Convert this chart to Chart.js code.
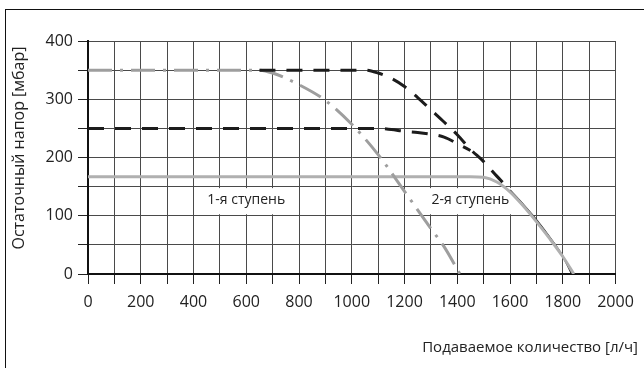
<!DOCTYPE html>
<html>
<head>
<meta charset="utf-8">
<script src="https://cdn.jsdelivr.net/npm/chart.js@4"></script>
<style>
    html, body { margin: 0; padding: 0; background: #fff; }
    #wrap { position: relative; width: 644px; height: 368px; overflow: hidden; }
    #chart { position: absolute; left: 0; top: 0; }
    #frame { position: absolute; left: 5px; top: 9px; width: 700px; height: 400px; border-left: 1px solid #111; border-top: 1px solid #111; pointer-events: none; }
</style>
</head>
<body>
<div id="wrap">
    <canvas id="chart" width="644" height="368"></canvas>
    <div id="frame"></div>
</div>
<script>
// flow [l/h] and residual head [mbar]
const solidFlow = [0, 1450, 1500, 1550, 1600, 1650, 1700, 1750, 1800, 1842];
const solidHead = [167, 167, 166, 158, 141, 117, 90, 61, 30, 0];

const tailFlow = [1600, 1653, 1704, 1754, 1802, 1834];
const tailHead = [144, 118, 91, 61, 29, 0];

// the lower dashed curve joins the upper one at about 1450 l/h
const lowDashFlow = [0, 1100, 1150, 1200, 1250, 1300, 1350, 1400, 1450];
const lowDashHead = [250, 250, 248, 245, 243, 240, 235, 224, 212];

const highDashFlow = [650, 1050, 1100, 1150, 1200, 1250, 1300, 1350, 1400, 1450, 1500, 1550, 1600];
const highDashHead = [350, 350, 345, 336, 322, 303, 282, 261, 239, 214, 193, 168, 144];

const dashDotFlow = [0, 650, 700, 800, 900, 1000, 1100, 1200, 1300, 1350, 1410];
const dashDotHead = [350, 350, 345, 325, 298, 257, 205, 142, 78, 47, 0];

const stageNames = ['1-я ступень', '2-я ступень'];
const stageFlow = [600, 1450];
const stageHead = 125;

const xTitle = 'Подаваемое количество [л/ч]';
const yTitle = 'Остаточный напор [мбар]';

const FONT = '"Open Sans", "DejaVu Sans", sans-serif';

function points(xs, ys) {
    return xs.map((x, i) => ({ x: x, y: ys[i] }));
}

const stageLabels = {
    id: 'stageLabels',
    beforeDatasetsDraw(chart) {
        const { ctx, scales: { x, y } } = chart;
        const top = y.getPixelForValue(150) + 1.5;
        const bottom = y.getPixelForValue(100) - 1.5;
        ctx.save();
        ctx.font = '14px ' + FONT;
        ctx.textAlign = 'center';
        ctx.textBaseline = 'middle';
        stageNames.forEach((name, i) => {
            const cx = x.getPixelForValue(stageFlow[i]);
            const w = ctx.measureText(name).width + 20;
            ctx.fillStyle = '#fff';
            ctx.fillRect(cx - w / 2, top, w, bottom - top);
            ctx.fillStyle = '#222';
            ctx.fillText(name, cx, y.getPixelForValue(stageHead) - 1);
        });
        ctx.restore();
    }
};

const axisTitles = {
    id: 'axisTitles',
    afterDraw(chart) {
        const { ctx } = chart;
        ctx.save();
        ctx.fillStyle = '#222';
        ctx.font = '15px ' + FONT;
        ctx.textAlign = 'right';
        ctx.textBaseline = 'middle';
        ctx.fillText(xTitle, 638, 348);

        ctx.font = '16px ' + FONT;
        ctx.translate(19, 148);
        ctx.rotate(-Math.PI / 2);
        ctx.textAlign = 'center';
        ctx.fillText(yTitle, 0, 0);
        ctx.restore();
    }
};

const dashed = { borderColor: '#1c1c1c', borderWidth: 3, borderDash: [16, 11] };

new Chart(document.getElementById('chart'), {
    type: 'line',
    data: {
        datasets: [
            Object.assign({ data: points(highDashFlow, highDashHead), order: 0 }, dashed),
            Object.assign({ data: points(lowDashFlow, lowDashHead), order: 1 }, dashed),
            {
                data: points(dashDotFlow, dashDotHead),
                borderColor: '#9e9e9e',
                borderWidth: 3,
                borderDash: [24, 8, 3, 8],
                order: 2
            },
            {
                data: points(solidFlow, solidHead),
                borderColor: '#b0b0b0',
                borderWidth: 3,
                order: 3
            },
            {
                data: points(tailFlow, tailHead),
                borderColor: '#1c1c1c',
                borderWidth: 1.6,
                order: 4
            }
        ]
    },
    options: {
        responsive: false,
        animation: false,
        events: [],
        layout: { padding: { top: 41, left: 0, right: 28.5, bottom: 0 } },
        elements: {
            point: { radius: 0 },
            line: { cubicInterpolationMode: 'monotone', borderCapStyle: 'butt' }
        },
        plugins: {
            legend: { display: false },
            tooltip: { enabled: false }
        },
        scales: {
            x: {
                type: 'linear',
                min: 0,
                max: 2000,
                afterFit: scale => { scale.height = 94; },
                grid: { color: '#4a4a4a', lineWidth: 1, tickLength: 10, tickColor: '#222' },
                border: { color: '#111', width: 2 },
                ticks: {
                    stepSize: 100,
                    autoSkip: false,
                    maxRotation: 0,
                    padding: 9,
                    color: '#222',
                    font: { family: FONT, size: 16 },
                    callback: v => (v % 200 === 0 ? v : '')
                }
            },
            y: {
                min: 0,
                max: 400,
                afterFit: scale => { scale.width = 88; },
                grid: { color: '#4a4a4a', lineWidth: 1, tickLength: 10, tickColor: '#222' },
                border: { color: '#111', width: 2 },
                ticks: {
                    stepSize: 50,
                    autoSkip: false,
                    padding: 5,
                    color: '#222',
                    font: { family: FONT, size: 16 },
                    callback: v => (v % 100 === 0 ? v : '')
                }
            }
        }
    },
    plugins: [stageLabels, axisTitles]
});
</script>
</body>
</html>
